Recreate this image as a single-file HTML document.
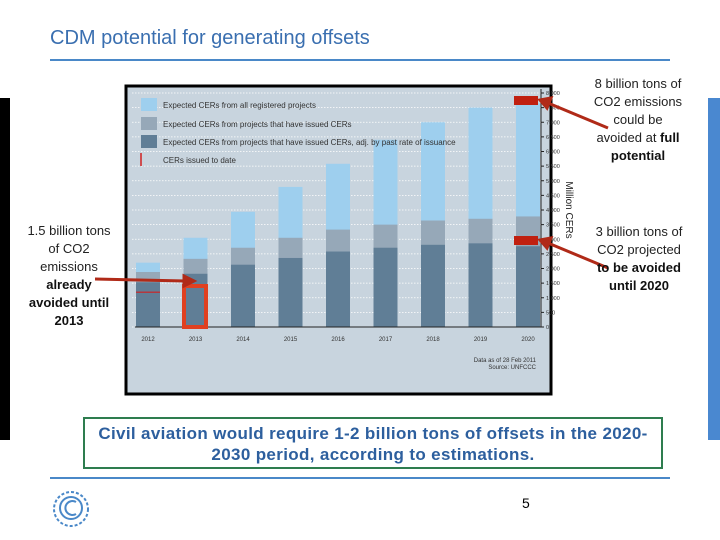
<!DOCTYPE html>
<html><head><meta charset="utf-8"><style>
body{margin:0;width:720px;height:540px;background:#fff;overflow:hidden;font-family:"Liberation Sans",sans-serif;position:relative}
.abs{position:absolute}
.ann{position:absolute;text-align:center;font-size:13px;line-height:18px;color:#222}
.ann b{color:#111}
</style></head><body>
<div class="abs" style="left:50px;top:27px;font-size:20px;color:#3a6fb0">CDM potential for generating offsets</div>
<div class="abs" style="left:50px;top:59px;width:620px;height:2px;background:#4a88c8"></div>
<div class="abs" style="left:0;top:98px;width:10px;height:342px;background:#000"></div>
<div class="abs" style="left:708px;top:98px;width:12px;height:342px;background:#4a88d0"></div>
<svg class="abs" style="left:0;top:0" width="720" height="540">
<rect x="126" y="86" width="425" height="308" fill="#c8d4de" stroke="#000" stroke-width="3"/>
<g id="grid"></g><g id="bars"></g><g id="axis"></g>
<g font-size="8" fill="#333" font-family="Liberation Sans">
<rect x="141" y="98" width="16" height="13" fill="#9ecfee"/><text x="163" y="108">Expected CERs from all registered projects</text>
<rect x="141" y="117" width="16" height="13" fill="#96a8b8"/><text x="163" y="127">Expected CERs from projects that have issued CERs</text>
<rect x="141" y="135" width="16" height="13" fill="#607e96"/><text x="163" y="145">Expected CERs from projects that have issued CERs, adj. by past rate of issuance</text>
<line x1="141" y1="153" x2="141" y2="166" stroke="#d02020" stroke-width="1.5"/><text x="163" y="163">CERs issued to date</text>
</g>
<text x="566" y="210" transform="rotate(90 566 210)" text-anchor="middle" font-size="10" fill="#222">Million CERs</text>
<text x="536" y="362" text-anchor="end" font-size="6" fill="#333">Data as of 28 Feb 2011</text>
<text x="536" y="369" text-anchor="end" font-size="6" fill="#333">Source: UNFCCC</text>
<rect x="184" y="286" width="22" height="41" fill="none" stroke="#e04020" stroke-width="4"/>
<rect x="514" y="96" width="24" height="9" fill="#c02010"/>
<rect x="514" y="236" width="24" height="9" fill="#c02010"/>
<g stroke="#b02a18" stroke-width="3" fill="#b02a18">
<line x1="95" y1="279" x2="186" y2="281"/><polygon points="194,281 184,276 184,286"/>
<line x1="608" y1="128" x2="548" y2="103"/><polygon points="540,100 551,98 547,108"/>
<line x1="608" y1="268" x2="548" y2="243"/><polygon points="540,240 551,238 547,248"/>
</g>
<rect x="84" y="418" width="578" height="50" fill="#fff" stroke="#2e7d4f" stroke-width="2"/>
<line x1="50" y1="478" x2="670" y2="478" stroke="#4a88c8" stroke-width="2"/>
<g fill="none" stroke="#4a88c8" stroke-width="2">
<circle cx="71" cy="509" r="17" stroke-dasharray="3 2"/><circle cx="71" cy="508" r="11"/><path d="M76 502 A7 7 0 1 0 76 514"/>
</g>
</svg>
<div class="abs" style="left:66px;top:423px;width:614px;text-align:center;font-weight:bold;font-size:17px;line-height:21px;color:#2d5f9e;letter-spacing:0.35px;white-space:nowrap">Civil aviation would require 1-2 billion tons of offsets in the 2020-<br>2030 period, according to estimations.</div>
<div class="ann" style="left:22px;top:222px;width:94px">1.5 billion tons of CO2 emissions <b>already avoided until 2013</b></div>
<div class="ann" style="left:590px;top:75px;width:96px">8 billion tons of CO2 emissions could be avoided at <b>full potential</b></div>
<div class="ann" style="left:594px;top:223px;width:90px">3 billion tons of CO2 projected <b>to be avoided until 2020</b></div>
<div class="abs" style="left:522px;top:495px;font-size:14px">5</div>
<script>
const years=["2012","2013","2014","2015","2016","2017","2018","2019","2020"];
const allRegistered=[2200,3050,3940,4790,5580,6400,7000,7500,7650];
const issuedProjects=[1880,2330,2710,3050,3330,3500,3640,3700,3780];
const adjusted=[1530,1820,2130,2360,2580,2710,2810,2860,2760];
const ticks=[0,500,1000,1500,2000,2500,3000,3500,4000,4500,5000,5500,6000,6500,7000,7500,8000];
const NS="http://www.w3.org/2000/svg";
const y0=327,y1=93,vmax=8000,x0=148,step=47.5,bw=24;
const Y=v=>y0-(v/vmax)*(y0-y1), X=i=>x0+i*step;
function mk(p,tag,a){const e=document.createElementNS(NS,tag);for(const k in a)e.setAttribute(k,a[k]);document.getElementById(p).appendChild(e);return e;}
ticks.forEach(t=>{
 const g=mk('grid','line',{x1:132,x2:541,y1:Y(t),y2:Y(t),stroke:'#fff','stroke-width':0.8,'stroke-dasharray':'1.5 1.5'});
 
 
 mk('axis','line',{x1:541,x2:544,y1:Y(t),y2:Y(t),stroke:'#222'});
 const tx=mk('axis','text',{x:546,y:Y(t)+2,'font-size':5.5,fill:'#333'});tx.textContent=t.toLocaleString('en-US');
 
 
});
mk('axis','line',{x1:135,x2:541,y1:y0,y2:y0,stroke:'#222','stroke-width':1});
mk('axis','line',{x1:541,x2:541,y1:y1-4,y2:y0,stroke:'#222','stroke-width':1});
years.forEach((yr,i)=>{
 [[allRegistered,'#9ecfee','bar-all-'],[issuedProjects,'#96a8b8','bar-issued-'],[adjusted,'#607e96','bar-adjusted-']].forEach(([arr,c,n])=>{
  const r=mk('bars','rect',{x:X(i)-bw/2,y:Y(arr[i]),width:bw,height:y0-Y(arr[i]),fill:c});
  
  
 });
 const t=mk('axis','text',{x:X(i),y:y0+14,'font-size':6,fill:'#333','text-anchor':'middle'});t.textContent=yr;
 
 
});
const red=mk('bars','line',{x1:X(0)-bw/2,x2:X(0)+bw/2,y1:Y(1190),y2:Y(1190),stroke:'#d02020','stroke-width':1.2});


</script>
</body></html>
